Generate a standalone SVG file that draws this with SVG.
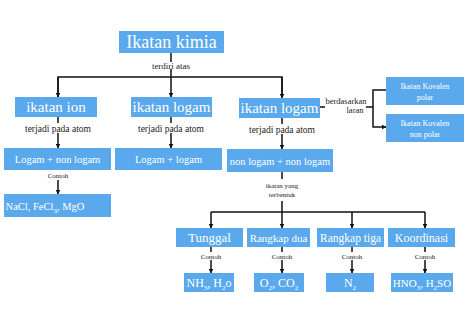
<svg xmlns="http://www.w3.org/2000/svg" width="474" height="335" viewBox="0 0 474 335">
<defs>
<marker id="ah" viewBox="0 0 10 10" refX="9" refY="5" markerWidth="5" markerHeight="5" orient="auto-start-reverse" markerUnits="userSpaceOnUse">
<path d="M0,0 L10,5 L0,10 z" fill="#111"/>
</marker>
<style>
.box{fill:#5aa9ec}
.t{font-family:"Liberation Serif","DejaVu Serif",serif;fill:#fff;text-anchor:middle}
.l{font-family:"Liberation Serif","DejaVu Serif",serif;fill:#222;text-anchor:middle}
.c{stroke:#111;stroke-width:1.5;fill:none}
.a{stroke:#111;stroke-width:1.5;fill:none;marker-end:url(#ah)}
</style>
</defs>
<rect width="474" height="335" fill="#fff"/>
<g id="connectors">
<line class="c" x1="171" y1="53" x2="171" y2="62"/>
<line class="c" x1="171" y1="69" x2="171" y2="77"/>
<polyline class="c" points="58,97 58,77 282,77 282,97"/>
<line class="a" x1="171" y1="77" x2="171" y2="97"/>
<line class="a" x1="58" y1="77" x2="58" y2="97"/>
<line class="a" x1="282" y1="77" x2="282" y2="98"/>
<line class="c" x1="58" y1="117" x2="58" y2="123"/>
<line class="a" x1="58" y1="133" x2="58" y2="148"/>
<line class="c" x1="171" y1="117" x2="171" y2="123"/>
<line class="a" x1="171" y1="133" x2="171" y2="148"/>
<line class="c" x1="282" y1="118" x2="282" y2="124"/>
<line class="a" x1="282" y1="134" x2="282" y2="149"/>
<line class="a" x1="58" y1="180" x2="58" y2="194"/>
<line class="c" x1="320" y1="107" x2="325" y2="107"/>
<line class="c" x1="366" y1="107" x2="373" y2="107"/>
<polyline class="a" points="386,90 373,90 373,127 386,127"/>
<line class="c" x1="282" y1="172" x2="282" y2="179"/>
<line class="c" x1="282" y1="201" x2="282" y2="212"/>
<line class="c" x1="211" y1="212" x2="425" y2="212"/>
<line class="a" x1="211" y1="212" x2="211" y2="228"/>
<line class="a" x1="282" y1="212" x2="282" y2="228"/>
<line class="a" x1="352" y1="212" x2="352" y2="228"/>
<line class="a" x1="425" y1="212" x2="425" y2="228"/>
<line class="c" x1="211" y1="247" x2="211" y2="252"/>
<line class="a" x1="211" y1="260" x2="211" y2="273"/>
<line class="c" x1="282" y1="247" x2="282" y2="252"/>
<line class="a" x1="282" y1="260" x2="282" y2="273"/>
<line class="c" x1="352" y1="247" x2="352" y2="252"/>
<line class="a" x1="352" y1="260" x2="352" y2="273"/>
<line class="c" x1="425" y1="247" x2="425" y2="252"/>
<line class="a" x1="425" y1="260" x2="425" y2="273"/>
</g>
<g id="labels">
<text class="l" x="171" y="69" font-size="9">terdiri atas</text>
<text class="l" x="58" y="132" font-size="9.5">terjadi pada atom</text>
<text class="l" x="171" y="132" font-size="9.5">terjadi pada atom</text>
<text class="l" x="282" y="133" font-size="9.5">terjadi pada atom</text>
<text class="l" x="58" y="178" font-size="7">Contoh</text>
<text class="l" x="346" y="104" font-size="8.5">berdasarkan</text>
<text class="l" x="355" y="113" font-size="8.5">laran</text>
<text class="l" x="282" y="188" font-size="7">ikatan yang</text>
<text class="l" x="282" y="197" font-size="7">terbentuk</text>
<text class="l" x="211" y="259" font-size="7">Contoh</text>
<text class="l" x="282" y="259" font-size="7">Contoh</text>
<text class="l" x="352" y="259" font-size="7">Contoh</text>
<text class="l" x="425" y="259" font-size="7">Contoh</text>
</g>
<g id="ikatan-kimia"><rect class="box" x="119" y="31" width="105" height="22"/><text class="t" x="171.5" y="48" font-size="18">Ikatan kimia</text></g>
<g id="ikatan-ion"><rect class="box" x="15" y="97" width="82" height="20"/><text class="t" x="56" y="112" font-size="15">ikatan ion</text></g>
<g id="ikatan-logam-1"><rect class="box" x="131" y="97" width="81" height="20"/><text class="t" x="171.5" y="112" font-size="15">ikatan logam</text></g>
<g id="ikatan-logam-2"><rect class="box" x="239" y="98" width="81" height="20"/><text class="t" x="279.5" y="113" font-size="15">ikatan logam</text></g>
<g id="kovalen-polar"><rect class="box" x="386" y="77" width="78" height="28"/><text class="t" x="425" y="89" font-size="8">Ikatan Kovalen</text><text class="t" x="425" y="100" font-size="8">polar</text></g>
<g id="kovalen-nonpolar"><rect class="box" x="386" y="114" width="78" height="28"/><text class="t" x="425" y="126" font-size="8">Ikatan Kovalen</text><text class="t" x="425" y="137" font-size="8">non polar</text></g>
<g id="logam-nonlogam"><rect class="box" x="4" y="148" width="107" height="22"/><text class="t" x="57.5" y="163" font-size="10.5">Logam + non logam</text></g>
<g id="logam-logam"><rect class="box" x="115" y="148" width="107" height="22"/><text class="t" x="168.5" y="163" font-size="10.5">Logam + logam</text></g>
<g id="nonlogam-nonlogam"><rect class="box" x="227" y="149" width="106" height="23"/><text class="t" x="280" y="164.5" font-size="10.5">non logam + non logam</text></g>
<g id="contoh-ion"><rect class="box" x="4" y="194" width="107" height="23"/><text class="t" x="45" y="210" font-size="10.5">NaCl, FeCl<tspan font-size="7" dy="3">3</tspan><tspan dy="-3">, MgO</tspan></text></g>
<g id="tunggal"><rect class="box" x="176" y="228" width="67" height="19"/><text class="t" x="209.5" y="242" font-size="13">Tunggal</text></g>
<g id="rangkap-dua"><rect class="box" x="247" y="228" width="63" height="19"/><text class="t" x="278.5" y="242" font-size="11">Rangkap dua</text></g>
<g id="rangkap-tiga"><rect class="box" x="317" y="228" width="67" height="19"/><text class="t" x="350.5" y="242" font-size="11.5">Rangkap tiga</text></g>
<g id="koordinasi"><rect class="box" x="388" y="228" width="67" height="19"/><text class="t" x="421.5" y="242" font-size="12">Koordinasi</text></g>
<g id="contoh-tunggal"><rect class="box" x="184" y="273" width="50" height="19"/><text class="t" x="209" y="287" font-size="12">NH<tspan font-size="7" dy="3">3</tspan><tspan dy="-3">, H</tspan><tspan font-size="7" dy="3">2</tspan><tspan dy="-3">o</tspan></text></g>
<g id="contoh-dua"><rect class="box" x="254" y="273" width="50" height="19"/><text class="t" x="279" y="287" font-size="12">O<tspan font-size="7" dy="3">2</tspan><tspan dy="-3">, CO</tspan><tspan font-size="7" dy="3">2</tspan></text></g>
<g id="contoh-tiga"><rect class="box" x="326" y="273" width="48" height="19"/><text class="t" x="350" y="287" font-size="12">N<tspan font-size="7" dy="3">2</tspan></text></g>
<g id="contoh-koordinasi"><rect class="box" x="391" y="273" width="62" height="19"/><text class="t" x="422" y="287" font-size="11">HNO<tspan font-size="7" dy="3">3</tspan><tspan dy="-3">, H</tspan><tspan font-size="7" dy="3">2</tspan><tspan dy="-3">SO</tspan></text></g>
</svg>
